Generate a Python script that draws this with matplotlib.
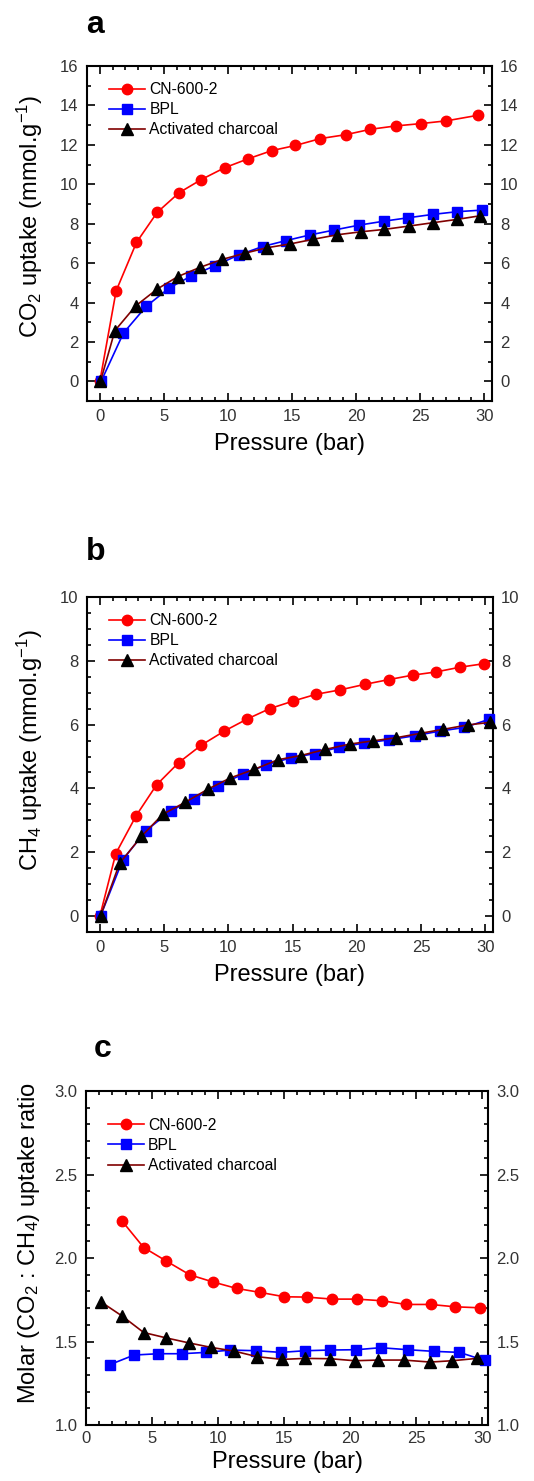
import matplotlib
matplotlib.use('Agg')
import matplotlib.pyplot as plt
from matplotlib.ticker import MultipleLocator, FormatStrFormatter

plt.rcParams['font.family'] = ['Liberation Sans', 'DejaVu Sans']
plt.rcParams['mathtext.fontset'] = 'custom'
plt.rcParams['mathtext.rm'] = 'Liberation Sans'
plt.rcParams['mathtext.default'] = 'regular'

# Panel a: CO2 uptake
a_cn_x = [0, 1.27, 2.86, 4.47, 6.18, 7.92, 9.74, 11.56, 13.43, 15.27, 17.22, 19.22, 21.12, 23.09, 25.06, 27.06, 29.5]
a_cn_y = [0, 4.59, 7.05, 8.57, 9.57, 10.24, 10.84, 11.29, 11.71, 11.97, 12.32, 12.52, 12.79, 12.96, 13.08, 13.22, 13.5]
a_bpl_x = [0.1, 1.84, 3.61, 5.4, 7.14, 8.99, 10.83, 12.7, 14.52, 16.4, 18.3, 20.26, 22.2, 24.05, 25.97, 27.9, 29.84]
a_bpl_y = [0, 2.45, 3.80, 4.73, 5.35, 5.87, 6.41, 6.84, 7.14, 7.43, 7.68, 7.93, 8.13, 8.30, 8.47, 8.61, 8.69]
a_ac_x = [0.05, 1.17, 2.8, 4.47, 6.1, 7.84, 9.56, 11.3, 13.04, 14.83, 16.67, 18.55, 20.39, 22.2, 24.13, 26.0, 27.9, 29.66]
a_ac_y = [0, 2.57, 3.83, 4.68, 5.32, 5.79, 6.19, 6.5, 6.78, 6.97, 7.21, 7.44, 7.59, 7.71, 7.88, 8.05, 8.22, 8.40]

# Panel b: CH4 uptake
b_cn_x = [0, 1.24, 2.83, 4.41, 6.14, 7.91, 9.7, 11.49, 13.22, 15.06, 16.83, 18.72, 20.61, 22.48, 24.35, 26.16, 28.05, 29.92]
b_cn_y = [0, 1.96, 3.15, 4.11, 4.81, 5.36, 5.80, 6.18, 6.5, 6.74, 6.95, 7.09, 7.26, 7.41, 7.55, 7.65, 7.80, 7.91]
b_bpl_x = [0.05, 1.79, 3.6, 5.5, 7.34, 9.18, 11.12, 12.96, 14.88, 16.72, 18.62, 20.59, 22.48, 24.5, 26.52, 28.39, 30.33]
b_bpl_y = [0, 1.77, 2.68, 3.29, 3.68, 4.09, 4.44, 4.74, 4.96, 5.09, 5.29, 5.42, 5.52, 5.65, 5.80, 5.91, 6.17]
b_ac_x = [0.05, 1.53, 3.24, 4.9, 6.66, 8.43, 10.16, 12.03, 13.87, 15.63, 17.53, 19.45, 21.26, 23.08, 25.0, 26.7, 28.65, 30.38]
b_ac_y = [0, 1.65, 2.50, 3.19, 3.57, 3.98, 4.33, 4.60, 4.90, 5.03, 5.22, 5.39, 5.49, 5.59, 5.73, 5.85, 5.99, 6.07]

# Panel c: CO2/CH4 molar ratio
c_cn_x = [2.75, 4.37, 6.06, 7.85, 9.6, 11.41, 13.2, 15.03, 16.77, 18.64, 20.5, 22.45, 24.24, 26.09, 27.95, 29.82]
c_cn_y = [2.22, 2.063, 1.983, 1.90, 1.857, 1.818, 1.794, 1.768, 1.766, 1.754, 1.754, 1.744, 1.722, 1.722, 1.708, 1.702]
c_bpl_x = [1.79, 3.64, 5.48, 7.27, 9.09, 10.93, 12.85, 14.77, 16.62, 18.48, 20.48, 22.32, 24.37, 26.36, 28.28, 30.18]
c_bpl_y = [1.361, 1.419, 1.427, 1.427, 1.435, 1.449, 1.445, 1.435, 1.445, 1.449, 1.451, 1.463, 1.451, 1.441, 1.435, 1.387]
c_ac_x = [1.16, 2.75, 4.37, 6.06, 7.78, 9.47, 11.19, 12.98, 14.87, 16.57, 18.51, 20.35, 22.12, 24.07, 26.06, 27.73, 29.62]
c_ac_y = [1.736, 1.652, 1.554, 1.522, 1.492, 1.465, 1.443, 1.409, 1.393, 1.399, 1.397, 1.385, 1.389, 1.389, 1.377, 1.385, 1.399]

labels = ['CN-600-2', 'BPL', 'Activated charcoal']

fig = plt.figure(figsize=(5.34, 14.81), dpi=100)


def draw(ax, xs, ys, ylim, ymaj, ymin, xlim, ylabel, leg_y, ylabelpad, ylabel_y):
    styles = [
        dict(color='#ff0000', marker='o', mfc='#ff0000', mec='#ff0000', ms=7.5),
        dict(color='#0000ff', marker='s', mfc='#0000ff', mec='#0000ff', ms=7),
        dict(color='#800000', marker='^', mfc='black', mec='black', ms=8),
    ]
    for x, y, st, lab in zip(xs, ys, styles, labels):
        ax.plot(x, y, lw=1.2, label=lab, clip_on=False, zorder=3, **st)
    ax.set_xlim(*xlim)
    ax.set_ylim(*ylim)
    ax.xaxis.set_major_locator(MultipleLocator(5))
    ax.xaxis.set_minor_locator(MultipleLocator(1))
    ax.yaxis.set_major_locator(MultipleLocator(ymaj))
    ax.yaxis.set_minor_locator(MultipleLocator(ymin))
    ax.tick_params(which='both', direction='in', top=True, right=True,
                   labelright=True, width=1.2, colors='black', labelcolor='#333333')
    ax.tick_params(which='major', length=6, labelsize=12, pad=6)
    ax.tick_params(which='minor', length=3)
    for s in ax.spines.values():
        s.set_linewidth(1.5)
    ax.set_xlabel('Pressure (bar)', fontsize=17, labelpad=6)
    ax.set_ylabel(ylabel, fontsize=17, labelpad=ylabelpad)
    ax.yaxis.label.set_y(ylabel_y)
    ax.legend(loc='upper left', bbox_to_anchor=(0.055, leg_y), frameon=False,
              fontsize=11.3, numpoints=1, handlelength=2.3, handletextpad=0.25,
              labelspacing=0.33, borderpad=0, borderaxespad=0)


ax_a = fig.add_axes([0.163, 0.7292, 0.758, 0.2262])
draw(ax_a, [a_cn_x, a_bpl_x, a_ac_x], [a_cn_y, a_bpl_y, a_ac_y],
     (-1, 16), 2, 1, (-1, 30.6), 'CO$_2$ uptake (mmol.g$^{-1}$)', 0.952, 11, 0.55)
ax_a.yaxis.set_major_formatter(FormatStrFormatter('%d'))

ax_b = fig.add_axes([0.163, 0.3707, 0.760, 0.2262])
draw(ax_b, [b_cn_x, b_bpl_x, b_ac_x], [b_cn_y, b_bpl_y, b_ac_y],
     (-0.5, 10), 2, 0.5, (-1, 30.6), 'CH$_4$ uptake (mmol.g$^{-1}$)', 0.952, 11, 0.543)
ax_b.yaxis.set_major_formatter(FormatStrFormatter('%d'))

ax_c = fig.add_axes([0.161, 0.0378, 0.753, 0.2255])
draw(ax_c, [c_cn_x, c_bpl_x, c_ac_x], [c_cn_y, c_bpl_y, c_ac_y],
     (1.0, 3.0), 0.5, 0.1, (0, 30.45), 'Molar (CO$_2$ : CH$_4$) uptake ratio', 0.92, 9, 0.546)
ax_c.yaxis.set_major_formatter(FormatStrFormatter('%.1f'))
ax_c.tick_params(axis='x', which='major', pad=4)
ax_c.xaxis.labelpad = 4

fig.text(86 / 534, 1 - 25 / 1481, 'a', fontsize=23, fontweight='bold', va='center', ha='left')
fig.text(86 / 534, 1 - 552 / 1481, 'b', fontsize=23, fontweight='bold', va='center', ha='left')
fig.text(94 / 534, 1 - 1049 / 1481, 'c', fontsize=23, fontweight='bold', va='center', ha='left')

fig.savefig('out.png', dpi=100)
